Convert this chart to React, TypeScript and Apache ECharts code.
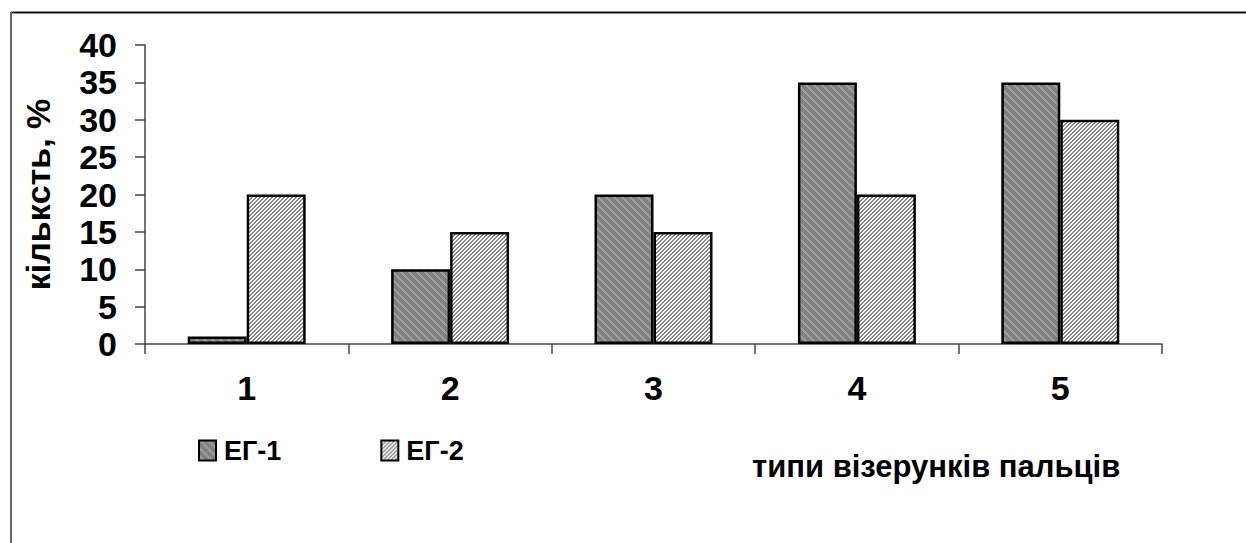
import React, { useEffect, useRef } from "react";
import * as echarts from "echarts";

const categories = ["1", "2", "3", "4", "5"];
const seriesNames = ["ЕГ-1", "ЕГ-2"];
const eg1Values = [1, 10, 20, 35, 35];
const eg2Values = [20, 15, 15, 20, 30];
const yTicks = { min: 0, max: 40, interval: 5 };
const yTitle = "кількcть, %";
const xTitle = "типи візерунків пальців";

function makeStripes(
  size: number,
  width: number,
  dir: "back" | "fwd",
  base: string,
  stripe: string
) {
  const c = document.createElement("canvas");
  c.width = size;
  c.height = size;
  const ctx = c.getContext("2d")!;
  ctx.fillStyle = base;
  ctx.fillRect(0, 0, size, size);
  ctx.fillStyle = stripe;
  for (let y = 0; y < size; y++) {
    for (let x = 0; x < size; x++) {
      const v = dir === "back" ? x - y : x + y;
      const d = ((v % size) + size) % size;
      if (d < width) ctx.fillRect(x, y, 1, 1);
    }
  }
  return c;
}

const FONT = "'Liberation Sans', Arial, sans-serif";

export default function App() {
  const ref = useRef<HTMLDivElement>(null);
  useEffect(() => {
    document.body.style.margin = "0";
    if (!ref.current) return;
    const chart = echarts.init(ref.current, null, { renderer: "svg" });
    const p1 = makeStripes(8, 3, "back", "#808080", "#9c9c9c");
    const p2 = makeStripes(4, 2, "fwd", "#ffffff", "#8a8a8a");
    const fill1: any = { image: p1, repeat: "repeat", imageWidth: 8, imageHeight: 8 };
    const fill2: any = { image: p2, repeat: "repeat", imageWidth: 4, imageHeight: 4 };
    chart.setOption({
      animation: false,
      backgroundColor: "#ffffff",
      grid: { left: 145, right: 84, top: 45, bottom: 199, containLabel: false },
      legend: {
        left: 193,
        top: 432,
        itemWidth: 17,
        itemHeight: 20,
        itemGap: 99,
        icon: "rect",
        itemStyle: { borderColor: "#000", borderWidth: 2 },
        textStyle: {
          fontFamily: FONT,
          fontSize: 27,
          fontWeight: "bold",
          color: "#000",
          padding: [0, 0, 0, 3],
        },
        data: seriesNames,
      },
      xAxis: {
        type: "category",
        data: categories,
        axisLine: { lineStyle: { color: "#444", width: 1.5 } },
        axisTick: { show: true, alignWithLabel: false, length: 10, lineStyle: { color: "#444", width: 1.5 } },
        axisLabel: {
          margin: 27,
          fontFamily: FONT,
          fontSize: 34,
          fontWeight: "bold",
          color: "#000",
        },
        splitLine: { show: false },
      },
      yAxis: {
        type: "value",
        min: yTicks.min,
        max: yTicks.max,
        interval: yTicks.interval,
        name: yTitle,
        nameLocation: "middle",
        nameRotate: 90,
        nameGap: 90,
        nameTextStyle: {
          fontFamily: FONT,
          fontSize: 34,
          fontWeight: "bold",
          color: "#000",
        },
        axisLine: { show: true, lineStyle: { color: "#444", width: 1.5 } },
        axisTick: { show: true, length: 10, lineStyle: { color: "#444", width: 1.5 } },
        axisLabel: {
          margin: 28,
          fontFamily: FONT,
          fontSize: 34,
          fontWeight: "bold",
          color: "#000",
        },
        splitLine: { show: false },
      },
      graphic: [
        {
          type: "line",
          shape: { x1: 11, y1: 12.5, x2: 1246, y2: 12.5 },
          style: { stroke: "#111", lineWidth: 2 },
        },
        {
          type: "line",
          shape: { x1: 11, y1: 12, x2: 11, y2: 543 },
          style: { stroke: "#666", lineWidth: 2 },
        },
        {
          type: "text",
          left: 752,
          top: 451,
          style: {
            text: xTitle,
            fontFamily: FONT,
            fontSize: 31,
            fontWeight: "bold",
            fill: "#000",
          },
        },
      ],
      series: [
        {
          name: seriesNames[0],
          type: "bar",
          data: eg1Values,
          barGap: "0%",
          barCategoryGap: "42%",
          itemStyle: { color: fill1, borderColor: "#000", borderWidth: 2.5 },
        },
        {
          name: seriesNames[1],
          type: "bar",
          data: eg2Values,
          barGap: "0%",
          barCategoryGap: "42%",
          itemStyle: { color: fill2, borderColor: "#000", borderWidth: 2.5 },
        },
      ],
    });
    return () => chart.dispose();
  }, []);
  return <div ref={ref} style={{ width: 1246, height: 543 }} />;
}
